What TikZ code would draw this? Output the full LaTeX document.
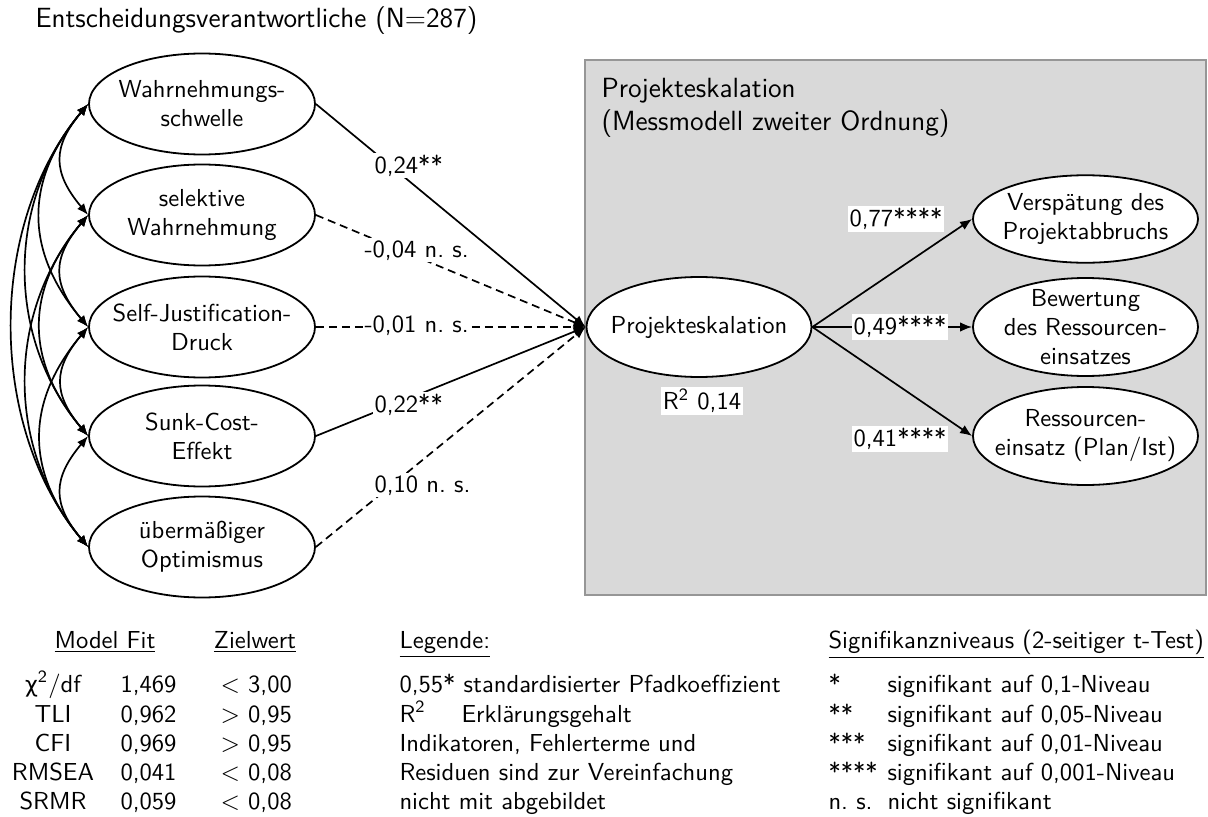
\documentclass[tikz,border=0pt]{standalone}
\usepackage{fontspec}
\newfontfamily\grk{DejaVu Sans}[Scale=0.9]
\usetikzlibrary{arrows.meta,shapes.geometric}
\newcommand\fs{\fontsize{9.84pt}{11.6pt}\selectfont\sffamily}
\newcommand\ft{\fontsize{11.1pt}{13.2pt}\selectfont\sffamily}
\definecolor{boxgray}{RGB}{217,217,217}
\definecolor{boxline}{RGB}{150,150,150}
\begin{document}
\begin{tikzpicture}[x=0.4pt,y=0.4pt,
  every node/.style={font=\fs},
  lat/.style={draw, ellipse, line width=0.72pt, fill=white, align=center,
    inner xsep=-4.8pt, inner ysep=-3pt, minimum width=90.4pt, minimum height=40.4pt},
  pth/.style={line width=0.68pt, -{Latex[length=4.8pt,width=3.8pt]}},
  nsd/.style={dash pattern=on 3.2pt off 2pt},
  cov/.style={line width=0.68pt, {Latex[length=4.6pt,width=3.6pt]}-{Latex[length=4.6pt,width=3.6pt]}},
  coef/.style={fill=white, inner sep=0.8pt, anchor=base west},
  txt/.style={inner sep=0pt, anchor=base west}]
\useasboundingbox (0,0) rectangle (1208,816);
% title
\node[txt, font=\ft] (title) at (35,788) {Entscheidungsverantwortliche (N=287)};
% grey box
\draw[draw=boxline, fill=boxgray, line width=0.45pt] (585,221) rectangle (1206,756);
\node[txt, font=\ft, align=left, anchor=north west] (boxtitle) at (601,738) {Projekteskalation\\(Messmodell zweiter Ordnung)};
% ellipses
\node[lat] (e1) at (202,712) {Wahrnehmungs-\\schwelle};
\node[lat] (e2) at (202,601) {selektive\\Wahrnehmung};
\node[lat] (e3) at (202,489) {Self-Justification-\\Druck};
\node[lat] (e4) at (202,380) {Sunk-Cost-\\Effekt};
\node[lat] (e5) at (202,269) {übermäßiger\\Optimismus};
\node[lat, minimum width=90pt, minimum height=40pt] (pe) at (699,489) {Projekteskalation};
\node[lat, minimum width=90pt, minimum height=35pt] (r1) at (1085.5,597) {Verspätung des\\Projektabbruchs};
\node[lat, minimum width=90pt, minimum height=39.2pt] (r2) at (1085.5,489) {Bewertung\\des Ressourcen-\\einsatzes};
\node[lat, minimum width=90pt, minimum height=39.2pt] (r3) at (1085.5,380) {Ressourcen-\\einsatz (Plan/Ist)};
% covariances
\foreach \i/\j/\l in {1/2/1.29, 2/3/1.29, 3/4/1.29, 4/5/1.29, 1/3/1.145, 2/4/1.145, 3/5/1.145, 1/4/0.99, 2/5/0.99, 1/5/0.91}
  \draw[cov] (e\i.west) to[out=230,in=130,looseness=\l] (e\j.west);
% structural paths
\draw[pth] (e1.east) -- (pe.west);
\draw[pth,nsd] (e2.east) -- (pe.west);
\draw[pth,nsd] (e3.east) -- (pe.west);
\draw[pth] (e4.east) -- (pe.west);
\draw[pth,nsd] (e5.east) -- (pe.west);
\draw[pth] (pe.east) -- (r1.west);
\draw[pth] (pe.east) -- (r2.west);
\draw[pth] (pe.east) -- (r3.west);
% coefficients
\node[coef] (c1) at (372,643) {0,24**};
\node[coef] (c2) at (362,559) {-0,04 n.\ s.};
\node[coef] (c3) at (362,484) {-0,01 n.\ s.};
\node[coef] (c4) at (372,404) {0,22**};
\node[coef] (c5) at (372,324) {0,10 n.\ s.};
\node[coef, anchor=center] (c6) at (896,597) {0,77****};
\node[coef, anchor=center] (c7) at (900,489) {0,49****};
\node[coef, anchor=center] (c8) at (900,377) {0,41****};
\node[coef, anchor=center] (rsq) at (702,415) {R\textsuperscript{2} 0,14};
% bottom: model fit
\node[txt, anchor=base] (mf) at (105,168) {\underline{Model Fit}};
\node[txt, anchor=base] (zw) at (255,168) {\underline{Zielwert}};
\node[txt, anchor=base] (m1) at (53,124) {{\grk χ}\textsuperscript{2}/df};
\node[txt, anchor=base] (m2) at (53,94) {TLI};
\node[txt, anchor=base] (m3) at (53,65) {CFI};
\node[txt, anchor=base] (m4) at (53,36) {RMSEA};
\node[txt, anchor=base] (m5) at (53,7) {SRMR};
\node[txt] (v1) at (120,124) {1,469};
\node[txt] (v2) at (120,94) {0,962};
\node[txt] (v3) at (120,65) {0,969};
\node[txt] (v4) at (120,36) {0,041};
\node[txt] (v5) at (120,7) {0,059};
\node[txt] (z1) at (220,124) {$<$ 3,00};
\node[txt] (z2) at (220,94) {$>$ 0,95};
\node[txt] (z3) at (220,65) {$>$ 0,95};
\node[txt] (z4) at (220,36) {$<$ 0,08};
\node[txt] (z5) at (220,7) {$<$ 0,08};
% legend
\node[txt] (lg) at (399,168) {\underline{Legende:}};
\node[txt] (lg1) at (399,124) {0,55* standardisierter Pfadkoeffizient};
\node[txt] (lg2) at (399,94) {R\textsuperscript{2}};
\node[txt] (lg2b) at (461,94) {Erklärungsgehalt};
\node[txt] (lg3) at (399,65) {Indikatoren, Fehlerterme und};
\node[txt] (lg4) at (399,36) {Residuen sind zur Vereinfachung};
\node[txt] (lg5) at (399,7) {nicht mit abgebildet};
% significance
\node[txt] (sg) at (828,168) {\underline{Signifikanzniveaus (2-seitiger t-Test)}};
\node[txt] (s1) at (828,124) {*};
\node[txt] (s2) at (828,94) {**};
\node[txt] (s3) at (828,65) {***};
\node[txt] (s4) at (828,36) {****};
\node[txt] (s5) at (828,7) {n.\ s.};
\node[txt] (t1) at (887,124) {signifikant auf 0,1-Niveau};
\node[txt] (t2) at (887,94) {signifikant auf 0,05-Niveau};
\node[txt] (t3) at (887,65) {signifikant auf 0,01-Niveau};
\node[txt] (t4) at (887,36) {signifikant auf 0,001-Niveau};
\node[txt] (t5) at (887,7) {nicht signifikant};
\end{tikzpicture}
\end{document}
